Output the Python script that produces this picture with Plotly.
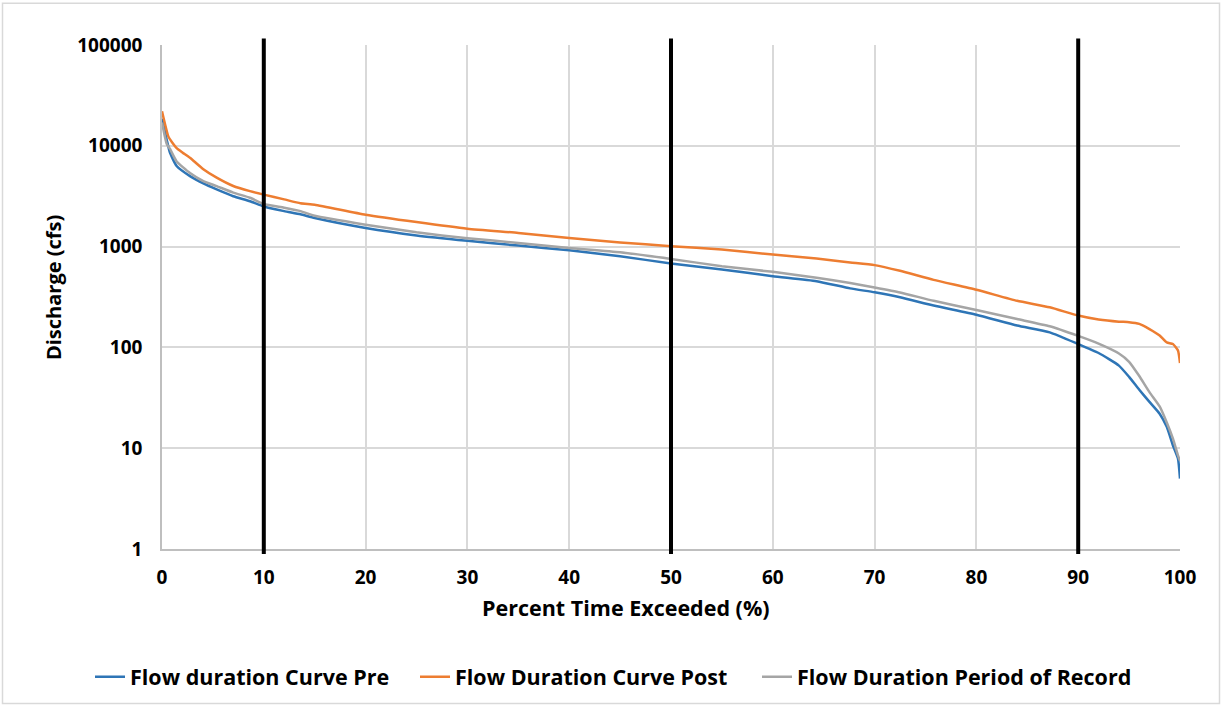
import plotly.graph_objects as go

# Percent time exceeded (%) and discharge (cfs)
pct_pre = [0, 0.46, 0.79, 1.44, 2.75, 4.06, 5.37, 7, 8.64, 10, 12, 13.6, 15, 20, 25, 30, 35, 40, 45,
           50, 55, 60, 64.3, 67.6, 70, 72.5, 75.8, 80, 84, 87.2, 90, 92, 94, 95, 96, 97, 98, 98.7,
           99.3, 99.8, 100]
q_pre = [18500, 11500, 8500, 6300, 5000, 4230, 3690, 3160, 2820, 2500, 2250, 2090, 1920, 1530, 1290,
         1140, 1023, 920, 802, 680, 593, 509, 454, 385, 352, 314, 260, 211, 165, 141, 108, 88, 66, 51,
         38, 28.8, 22, 16.3, 10.7, 7.9, 5]

pct_post = [0, 0.62, 1.0, 1.44, 2.0, 2.75, 4.06, 5.37, 7, 8.64, 10, 12, 13.6, 15, 20, 25, 30, 35,
            40, 45, 50, 55, 60, 64.3, 67.6, 70, 72.5, 75.8, 80, 84, 87.2, 90, 92, 94, 95, 96, 97, 98,
            98.7, 99.3, 99.8, 100]
q_post = [22000, 12400, 10800, 9500, 8600, 7600, 5850, 4830, 3990, 3550, 3280, 2940, 2690, 2600,
          2070, 1750, 1505, 1365, 1217, 1100, 1010, 934, 833, 760, 697, 655, 575, 468, 373, 290, 250,
          207, 189, 180, 178, 171, 152, 131, 112, 108, 93, 70]

pct_por = [0, 0.46, 0.79, 1.44, 2.75, 4.06, 5.37, 7, 8.64, 10, 12, 13.6, 15, 20, 25, 30, 35, 40, 45,
           50, 55, 60, 64.3, 67.6, 70, 72.5, 75.8, 80, 84, 87.2, 90, 92, 94, 95, 96, 97, 98, 98.7,
           99.3, 99.8, 100]
q_por = [17000, 10500, 9300, 7000, 5380, 4470, 3980, 3430, 3050, 2650, 2430, 2250, 2020, 1650, 1385,
         1210, 1088, 970, 880, 755, 638, 562, 490, 435, 393, 351, 290, 235, 191, 162, 130, 109, 87, 72,
         52, 36, 26, 18, 12.5, 8.5, 7.5]

markers_pct = [10, 50, 90]

x_ticks = list(range(0, 101, 10))
y_ticks = [1, 10, 100, 1000, 10000, 100000]
y_ticklabels = ["1", "10", "100", "1000", "10000", "100000"]

x_title = "Percent Time Exceeded (%)"
y_title = "Discharge (cfs)"

FONT = "Open Sans"

fig = go.Figure()
line_kw = dict(width=2.5, shape="spline", smoothing=0.5)
fig.add_trace(go.Scatter(x=pct_pre, y=q_pre, mode="lines", name="Flow duration Curve Pre",
                         line=dict(color="#2E75B6", **line_kw), legend="legend"))
fig.add_trace(go.Scatter(x=pct_post, y=q_post, mode="lines", name="Flow Duration Curve Post",
                         line=dict(color="#ED7D31", **line_kw), legend="legend2"))
fig.add_trace(go.Scatter(x=pct_por, y=q_por, mode="lines", name="Flow Duration Period of Record",
                         line=dict(color="#A5A5A5", **line_kw), legend="legend3"))

shapes = []
for xv in markers_pct:
    shapes.append(dict(type="line", xref="x", yref="paper", x0=xv, x1=xv, y0=-0.01, y1=1.013,
                       line=dict(color="black", width=4), layer="above"))
# outer chart border
shapes.append(dict(type="rect", xref="paper", yref="paper",
                   x0=(2.5 - 162) / 1018, x1=(1219.5 - 162) / 1018,
                   y0=(551 - 706) / 506, y1=(551 - 3) / 506,
                   line=dict(color="#D9D9D9", width=1.5), layer="below"))

annotations = [
    dict(text=x_title, xref="paper", yref="paper", x=(625.5 - 162) / 1018, y=(551 - 610) / 506,
         xanchor="center", yanchor="middle", showarrow=False,
         font=dict(family=FONT, size=21.5, color="black", weight="bold")),
    dict(text=y_title, xref="paper", yref="paper", x=(53 - 162) / 1018, y=(551 - 289) / 506,
         xanchor="center", yanchor="middle", showarrow=False, textangle=-90,
         font=dict(family=FONT, size=20, color="black", weight="bold")),
]

legend_font = dict(family=FONT, size=21.5, color="black", weight="bold")


def leg(px_left):
    return dict(orientation="h", x=(px_left - 162) / 1018, xanchor="left", y=-0.213, yanchor="top",
                font=legend_font, itemwidth=30, bgcolor="rgba(0,0,0,0)")


fig.update_layout(
    width=1225, height=709,
    margin=dict(l=162, r=45, t=45, b=158),
    paper_bgcolor="white", plot_bgcolor="white",
    font=dict(family=FONT, size=19, color="black", weight="bold"),
    shapes=shapes,
    annotations=annotations,
    showlegend=True,
    legend=leg(96 - 6),
    legend2=leg(421 - 6),
    legend3=leg(763 - 6),
    xaxis=dict(range=[0, 100], tickvals=x_ticks, showgrid=True, gridcolor="#D9D9D9", gridwidth=1.5,
               showline=True, linecolor="#BFBFBF", linewidth=1.5, zeroline=False, ticks="",
               ticklabelstandoff=10,
               tickfont=dict(family=FONT, size=19, weight="bold")),
    yaxis=dict(type="log", range=[0, 5], tickvals=y_ticks, ticktext=y_ticklabels, showgrid=True,
               gridcolor="#D9D9D9", gridwidth=1.5, showline=True, linecolor="#BFBFBF", linewidth=1.5,
               zeroline=False, ticks="", ticklabelstandoff=14,
               tickfont=dict(family=FONT, size=19, weight="bold")),
)

fig.write_html("out.html")
